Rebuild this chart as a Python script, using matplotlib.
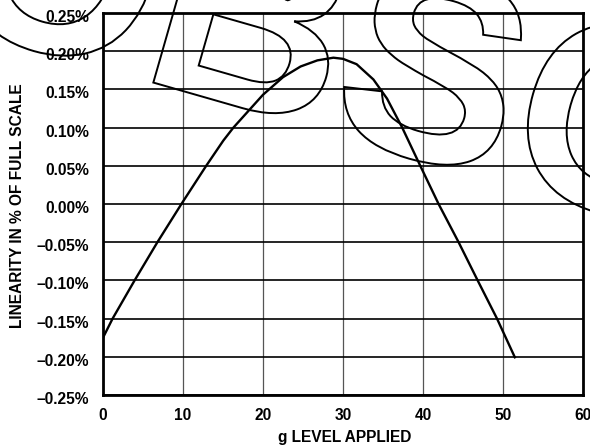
import matplotlib
matplotlib.use("Agg")
import matplotlib.pyplot as plt
from matplotlib.textpath import TextPath
from matplotlib.patches import PathPatch
from matplotlib.font_manager import FontProperties
from matplotlib.transforms import Affine2D, ScaledTranslation

# ---- data ----
g_level = [0, 1.2, 3.95, 6.8, 9.8, 12.9, 15.04, 16.3, 20.0, 22.5, 24.7,
           26.8, 28.8, 30.0, 31.7, 33.8, 35.5, 37.4, 39.66, 41.95, 44.45, 46.83,
           49.25, 51.54]
linearity_pct = [-0.175, -0.15, -0.10, -0.05, 0.0, 0.05, 0.083, 0.10, 0.143,
                 0.166, 0.180, 0.188, 0.1915, 0.190, 0.183, 0.163, 0.138, 0.10, 0.05,
                 0.0, -0.05, -0.10, -0.15, -0.202]
x_ticks = [0, 10, 20, 30, 40, 50, 60]
x_tick_labels = ["0", "10", "20", "30", "40", "50", "60"]
y_ticks = [-0.25, -0.20, -0.15, -0.10, -0.05, 0.0, 0.05, 0.10, 0.15, 0.20, 0.25]
y_tick_labels = ["\u20130.25%", "\u20130.20%", "\u20130.15%", "\u20130.10%", "\u20130.05%",
                 "0.00%", "0.05%", "0.10%", "0.15%", "0.20%", "0.25%"]
x_label = "g LEVEL APPLIED"
y_label = "LINEARITY IN % OF FULL SCALE"
watermark = "OBSOLETE"

FONT = "Liberation Sans"
FS = 11.2
W, H = 590, 448

fig = plt.figure(figsize=(W / 100, H / 100), dpi=100)
ax = fig.add_axes([103 / W, (H - 395) / H, 480 / W, 382 / H])
ax.set_xlim(0, 60)
ax.set_ylim(-0.25, 0.25)

ax.set_xticks(x_ticks)
ax.set_xticklabels(x_tick_labels, fontfamily=FONT, fontweight="bold", fontsize=FS)
ax.set_yticks(y_ticks)
ax.set_yticklabels(y_tick_labels, fontfamily=FONT, fontweight="bold", fontsize=FS)
ax.tick_params(axis="x", length=0, pad=9.0)
ax.tick_params(axis="y", length=0, pad=10)
for lab in ax.get_yticklabels():
    lab.set_transform(lab.get_transform() + ScaledTranslation(0, -3 / 100, fig.dpi_scale_trans))

ax.yaxis.grid(True, color="black", lw=1.2)
ax.xaxis.grid(True, color="#555555", lw=0.9)
ax.set_axisbelow(True)
for sp in ax.spines.values():
    sp.set_linewidth(2.0)
    sp.set_color("black")

ax.plot(g_level, linearity_pct, color="black", lw=1.7, solid_joinstyle="round",
        solid_capstyle="butt", zorder=5)

fig.text(345 / W, 1 - 442 / H, x_label, ha="center", va="baseline",
         fontfamily=FONT, fontweight="bold", fontsize=FS)
fig.text(18 / W, 1 - 206 / H, y_label, ha="center", va="center", rotation=90,
         fontfamily=FONT, fontweight="bold", fontsize=FS)

# ---- outlined watermark ----
fp = FontProperties(family=FONT, weight="bold")
tp = TextPath((0, 0), watermark, size=270, prop=fp)
tr = Affine2D().rotate_deg(-16).translate(-65.9, 428.3).scale(1 / 100) + fig.dpi_scale_trans
patch = PathPatch(tp, transform=tr, facecolor="none", edgecolor="black", lw=1.4, zorder=10)
fig.add_artist(patch)

fig.savefig("out.png", dpi=100)
